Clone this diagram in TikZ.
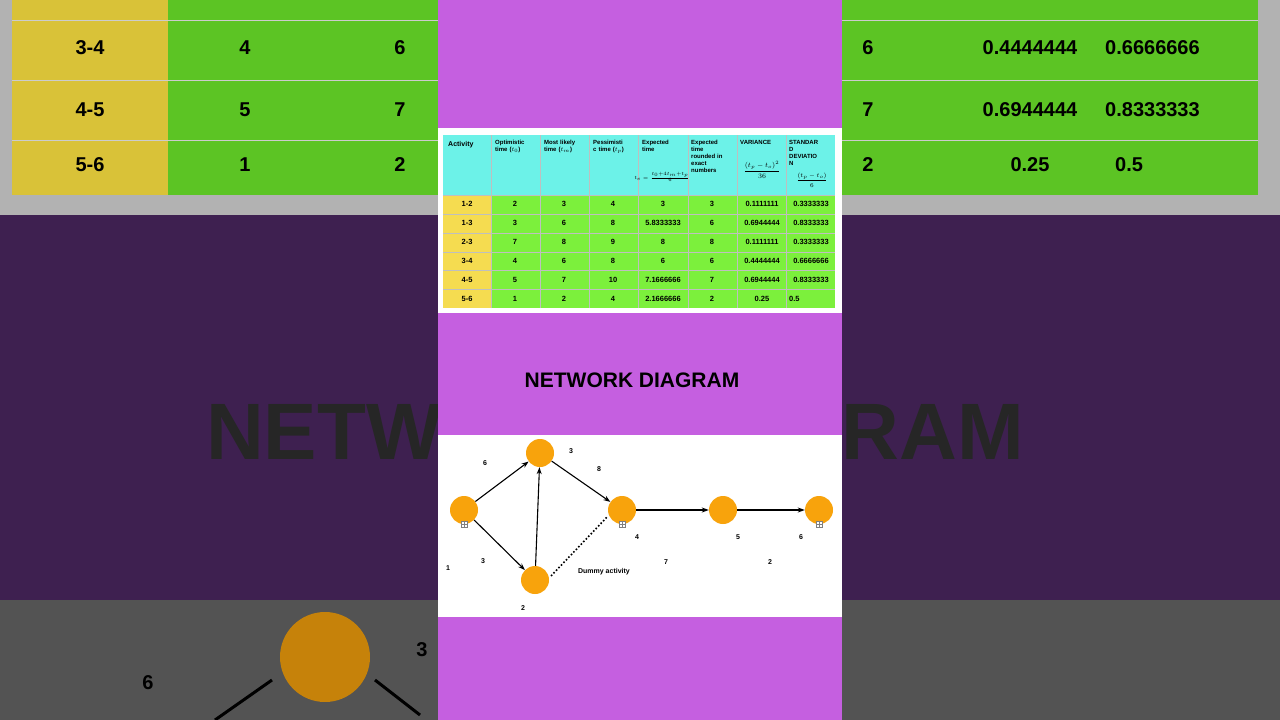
\documentclass[tikz,border=0pt]{standalone}
\usepackage{fontspec}
\setmainfont{Liberation Sans}
\usetikzlibrary{arrows.meta}
\definecolor{pp}{HTML}{C55FE0}
\definecolor{dp}{HTML}{3E2050}
\definecolor{cy}{HTML}{6CF2E8}
\definecolor{gr}{HTML}{7CF03C}
\definecolor{yl}{HTML}{F5DC50}
\definecolor{og}{HTML}{F8A30C}
\definecolor{bgr}{HTML}{5CC424}
\definecolor{byl}{HTML}{D9C238}
\tikzset{
 ev/.style={circle,fill=og,minimum size=28pt,inner sep=0pt},
 lb/.style={font=\bfseries\fontsize{7}{8}\selectfont,inner sep=0pt},
 hd/.style={font=\bfseries\fontsize{6}{7}\selectfont,anchor=north west,align=left,text width=44pt,inner sep=0pt},
 cl/.style={font=\bfseries\fontsize{7.5}{9}\selectfont,inner sep=0pt},
 big/.style={font=\bfseries\fontsize{28}{30}\selectfont,inner sep=0pt},
 ar/.style={-{Stealth[length=7pt,width=5pt]},line width=1.1pt},
 ic/.style={draw=gray,fill=white,minimum size=6pt,inner sep=0pt,
   path picture={\draw[gray,line width=0.4pt] (path picture bounding box.north) -- (path picture bounding box.south) (path picture bounding box.west) -- (path picture bounding box.east);}}
}
\begin{document}
\begin{tikzpicture}[x=1pt,y=-1pt]
\useasboundingbox (0,0) rectangle (1280,720);
% background
\fill[gray!60] (0,0) rectangle (1280,215);
\fill[byl] (12,0) rectangle (168,195);
\fill[bgr] (168,0) rectangle (438,195);
\fill[bgr] (842,0) rectangle (1258,195);
\foreach \yy in {20,80,140}{\draw[gray!40,line width=1pt] (12,\yy) -- (1258,\yy);}
\foreach \t/\a/\b/\c/\y in {3-4/4/6/8/48,4-5/5/7/10/110,5-6/1/2/4/165}{
 \node[big,font=\bfseries\fontsize{20}{22}\selectfont] (bg\y) at (90,\y) {\t};
 \node[big,font=\bfseries\fontsize{20}{22}\selectfont] (bga\y) at (245,\y) {\a};
 \node[big,font=\bfseries\fontsize{20}{22}\selectfont] (bgb\y) at (400,\y) {\b};}
\node[big,font=\bfseries\fontsize{20}{22}\selectfont] (r1) at (868,48) {6};
\node[big,font=\bfseries\fontsize{20}{22}\selectfont] (r2) at (1030,48) {0.4444444};
\node[big,font=\bfseries\fontsize{20}{22}\selectfont,anchor=west] (r3) at (1105,48) {0.6666666};
\node[big,font=\bfseries\fontsize{20}{22}\selectfont] (r4) at (868,110) {7};
\node[big,font=\bfseries\fontsize{20}{22}\selectfont] (r5) at (1030,110) {0.6944444};
\node[big,font=\bfseries\fontsize{20}{22}\selectfont,anchor=west] (r6) at (1105,110) {0.8333333};
\node[big,font=\bfseries\fontsize{20}{22}\selectfont] (r7) at (868,165) {2};
\node[big,font=\bfseries\fontsize{20}{22}\selectfont] (r8) at (1030,165) {0.25};
\node[big,font=\bfseries\fontsize{20}{22}\selectfont,anchor=west] (r9) at (1115,165) {0.5};
\fill[dp] (0,215) rectangle (1280,600);
\node[font=\bfseries\fontsize{80}{80}\selectfont,text=black!85] (bigt) at (615,432) {NETWORK DIAGRAM};
\fill[gray!65!black] (0,600) rectangle (1280,720);
\fill[og!80!black] (325,657) circle (45);
\node[big,font=\bfseries\fontsize{20}{22}\selectfont] (bb6) at (148,683) {6};
\node[big,font=\bfseries\fontsize{20}{22}\selectfont] (bb3) at (422,650) {3};
\draw[line width=3pt] (215,720) -- (272,680);
\draw[line width=3pt] (375,680) -- (420,715);
% center panel
\fill[pp] (438,0) rectangle (842,720);
\fill[white] (438,128) rectangle (842,313);
\fill[cy] (443,135) rectangle (835,195);
\fill[yl] (443,195) rectangle (491,308);
\fill[gr] (491,195) rectangle (835,308);
\foreach \x in {491,540,589,638,688,737,786}{\draw[gray!50,line width=0.3pt] (\x,135) -- (\x,308);}
\foreach \y in {195,214,233,252,270,289}{\draw[gray!50,line width=0.3pt] (443,\y) -- (835,\y);}
\node[hd,font=\bfseries\fontsize{7}{8}\selectfont] (h1) at (448,141) {Activity};
\node[hd] (h2) at (495,140) {Optimistic\\time ($t_0$)};
\node[hd] (h3) at (544,140) {Most likely\\time ($t_m$)};
\node[hd] (h4) at (593,140) {Pessimisti\\c time ($t_p$)};
\node[hd] (h5) at (642,140) {Expected\\time};
\node[font=\fontsize{3}{3}\selectfont,inner sep=0pt] (h5f) at (662,177) {$t_e=\frac{t_0+4t_m+t_p}{6}$};
\node[hd] (h6) at (691,140) {Expected\\time\\rounded in\\exact\\numbers};
\node[hd] (h7) at (740,140) {VARIANCE};
\node[font=\fontsize{7}{8}\selectfont,inner sep=0pt] (h7f) at (762,170) {$\displaystyle\frac{(t_p-t_o)^2}{36}$};
\node[hd] (h8) at (789,140) {STANDAR\\D\\DEVIATIO\\N};
\node[font=\fontsize{6}{7}\selectfont,inner sep=0pt] (h8f) at (812,180) {$\displaystyle\frac{(t_p-t_o)}{6}$};
\foreach \a/\b/\c/\d/\e/\f/\g/\h [count=\i] in {1-2/2/3/4/3/3/0.1111111/0.3333333,1-3/3/6/8/5.8333333/6/0.6944444/0.8333333,2-3/7/8/9/8/8/0.1111111/0.3333333,3-4/4/6/8/6/6/0.4444444/0.6666666,4-5/5/7/10/7.1666666/7/0.6944444/0.8333333}{
 \pgfmathsetmacro\yy{185+18.9*\i}
 \node[cl] (a\i) at (467,\yy) {\a};
 \node[cl] (b\i) at (515,\yy) {\b};
 \node[cl] (c\i) at (564,\yy) {\c};
 \node[cl] (d\i) at (613,\yy) {\d};
 \node[cl] (e\i) at (663,\yy) {\e};
 \node[cl] (f\i) at (712,\yy) {\f};
 \node[cl] (g\i) at (762,\yy) {\g};
 \node[cl] (k\i) at (811,\yy) {\h};}
\node[cl] (a6) at (467,299) {5-6};
\node[cl] (b6) at (515,299) {1};
\node[cl] (c6) at (564,299) {2};
\node[cl] (d6) at (613,299) {4};
\node[cl] (e6) at (663,299) {2.1666666};
\node[cl] (f6) at (712,299) {2};
\node[cl] (g6) at (762,299) {0.25};
\node[cl,anchor=west] (k6) at (789,299) {0.5};
% title
\node[font=\bfseries\fontsize{21}{24}\selectfont] (title) at (632,380) {NETWORK DIAGRAM};
% network
\fill[white] (438,435) rectangle (842,617);
\node[ev] (n1) at (464,510) {};
\node[ev] (n3) at (540,453) {};
\node[ev] (n4) at (622,510) {};
\node[ev] (n5) at (723,510) {};
\node[ev] (n6) at (819,510) {};
\node[ev] (n2) at (535,580) {};
\foreach \p in {n1,n4,n6}{\node[ic] (\p i) at ([yshift=-14pt]\p) {};}
\draw[ar] (n1) -- (n3);
\draw[ar] (n1) -- (n2);
\draw[ar] (n2) -- (n3);
\draw[ar] (n3) -- (n4);
\draw[ar] (n4) -- (n5);
\draw[ar] (n5) -- (n6);
\draw[line width=1.6pt,dotted] ([shift={(6pt,-6pt)}]n2.north east) -- ([shift={(-4pt,4pt)}]n4.south west);
\node[lb] (l1) at (448,568) {1};
\node[lb] (l6) at (485,463) {6};
\node[lb] (l3) at (571,451) {3};
\node[lb] (l8) at (599,469) {8};
\node[lb] (l3b) at (483,561) {3};
\node[lb] (l4) at (637,537) {4};
\node[lb] (l5) at (738,537) {5};
\node[lb] (l6b) at (801,537) {6};
\node[lb] (l7) at (666,562) {7};
\node[lb] (l2) at (770,562) {2};
\node[lb] (l2b) at (523,608) {2};
\node[lb] (dum) at (604,572) {Dummy activity};
\end{tikzpicture}
\end{document}
